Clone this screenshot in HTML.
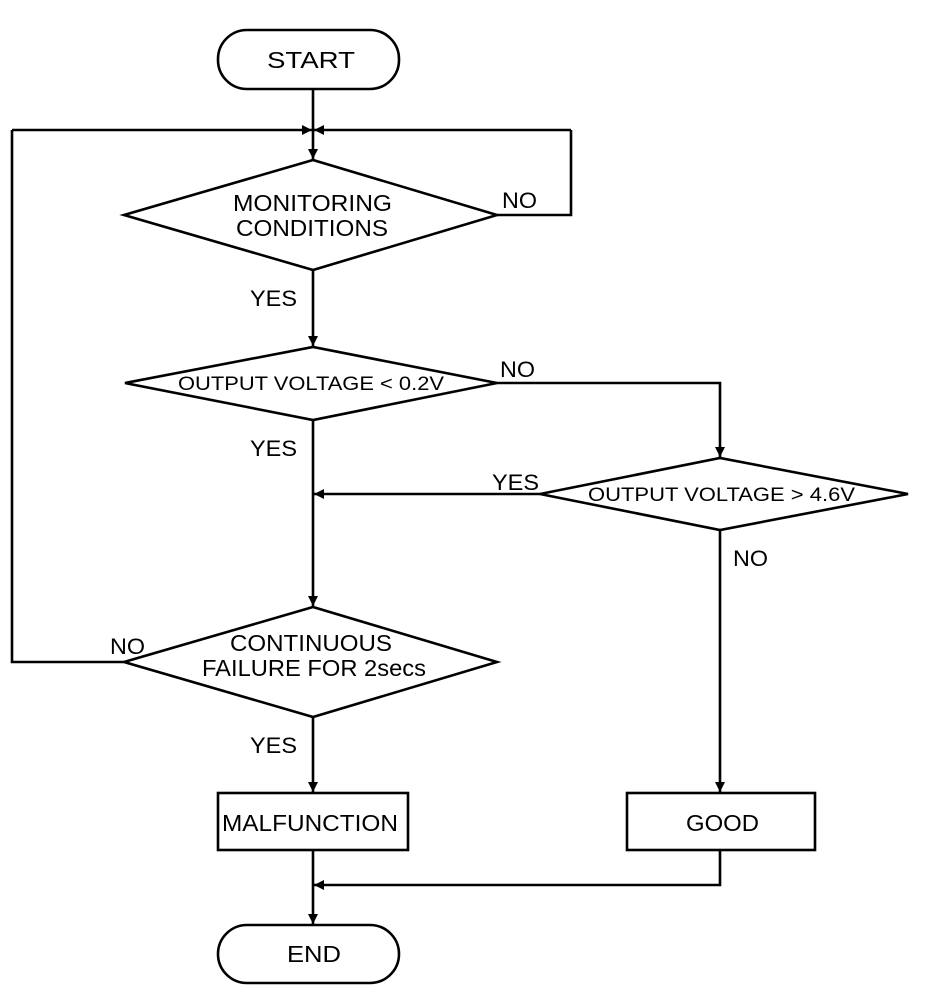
<!DOCTYPE html>
<html><head><meta charset="utf-8"><style>
html,body{margin:0;padding:0;background:#fff;}
svg{display:block;}
text{font-family:"Liberation Sans",Arial,sans-serif;fill:#000;}
</style></head><body>
<svg width="944" height="992" viewBox="0 0 944 992" xmlns="http://www.w3.org/2000/svg">
<defs>
<marker id="a" viewBox="0 0 10 10" refX="10" refY="5" markerWidth="11" markerHeight="10" markerUnits="userSpaceOnUse" orient="auto">
<path d="M0,0 L10,5 L0,10 z" fill="#000"/></marker>
</defs>
<g fill="none" stroke="#000" stroke-width="2.6">
<rect x="218" y="30" width="181" height="59" rx="29" ry="29"/>
<rect x="218" y="925" width="181" height="58" rx="29" ry="29"/>
<polygon points="124,215 313,160 497,215 313,270"/>
<polygon points="125,383 313,347 497,383 313,420"/>
<polygon points="540,494 720,458 908,494 720,530"/>
<polygon points="124,662 313,607 497,662 313,717"/>
<rect x="218" y="793" width="190" height="57"/>
<rect x="627" y="793" width="188" height="57"/>
<line x1="313" y1="89" x2="313" y2="159" marker-end="url(#a)"/>
<line x1="12" y1="130" x2="312" y2="130" marker-end="url(#a)"/>
<line x1="571" y1="130" x2="314" y2="130" marker-end="url(#a)"/>
<polyline points="497,215 571,215 571,130"/>
<line x1="313" y1="270" x2="313" y2="346" marker-end="url(#a)"/>
<polyline points="497,383 720,383 720,457" marker-end="url(#a)"/>
<line x1="540" y1="494" x2="314" y2="494" marker-end="url(#a)"/>
<line x1="313" y1="420" x2="313" y2="606" marker-end="url(#a)"/>
<polyline points="124,662 12,662 12,130"/>
<line x1="313" y1="717" x2="313" y2="792" marker-end="url(#a)"/>
<line x1="720" y1="530" x2="720" y2="792" marker-end="url(#a)"/>
<polyline points="720,850 720,885 314,885" marker-end="url(#a)"/>
<line x1="313" y1="850" x2="313" y2="924" marker-end="url(#a)"/>
</g>
<g font-size="23" lengthAdjust="spacingAndGlyphs">
<text x="267" y="68" textLength="88" lengthAdjust="spacingAndGlyphs">START</text>
<text x="287" y="962" textLength="54" lengthAdjust="spacingAndGlyphs">END</text>
<text x="233" y="211" textLength="159" lengthAdjust="spacingAndGlyphs">MONITORING</text>
<text x="236" y="236" textLength="152" lengthAdjust="spacingAndGlyphs">CONDITIONS</text>
<text x="230" y="651" textLength="162" lengthAdjust="spacingAndGlyphs">CONTINUOUS</text>
<text x="202" y="676" textLength="224" lengthAdjust="spacingAndGlyphs">FAILURE FOR 2secs</text>
<text x="222" y="831" textLength="176" lengthAdjust="spacingAndGlyphs">MALFUNCTION</text>
<text x="686" y="831" textLength="73" lengthAdjust="spacingAndGlyphs">GOOD</text>
</g>
<g font-size="19">
<text x="178" y="390" textLength="266" lengthAdjust="spacingAndGlyphs">OUTPUT VOLTAGE &lt; 0.2V</text>
<text x="588" y="501" textLength="267" lengthAdjust="spacingAndGlyphs">OUTPUT VOLTAGE &gt; 4.6V</text>
</g>
<g font-size="22">
<text x="502" y="208" textLength="35" lengthAdjust="spacingAndGlyphs">NO</text>
<text x="250" y="306" textLength="47" lengthAdjust="spacingAndGlyphs">YES</text>
<text x="500" y="377" textLength="35" lengthAdjust="spacingAndGlyphs">NO</text>
<text x="250" y="456" textLength="47" lengthAdjust="spacingAndGlyphs">YES</text>
<text x="492" y="490" textLength="47" lengthAdjust="spacingAndGlyphs">YES</text>
<text x="733" y="566" textLength="35" lengthAdjust="spacingAndGlyphs">NO</text>
<text x="110" y="654" textLength="35" lengthAdjust="spacingAndGlyphs">NO</text>
<text x="250" y="753" textLength="47" lengthAdjust="spacingAndGlyphs">YES</text>
</g>
</svg>
</body></html>
